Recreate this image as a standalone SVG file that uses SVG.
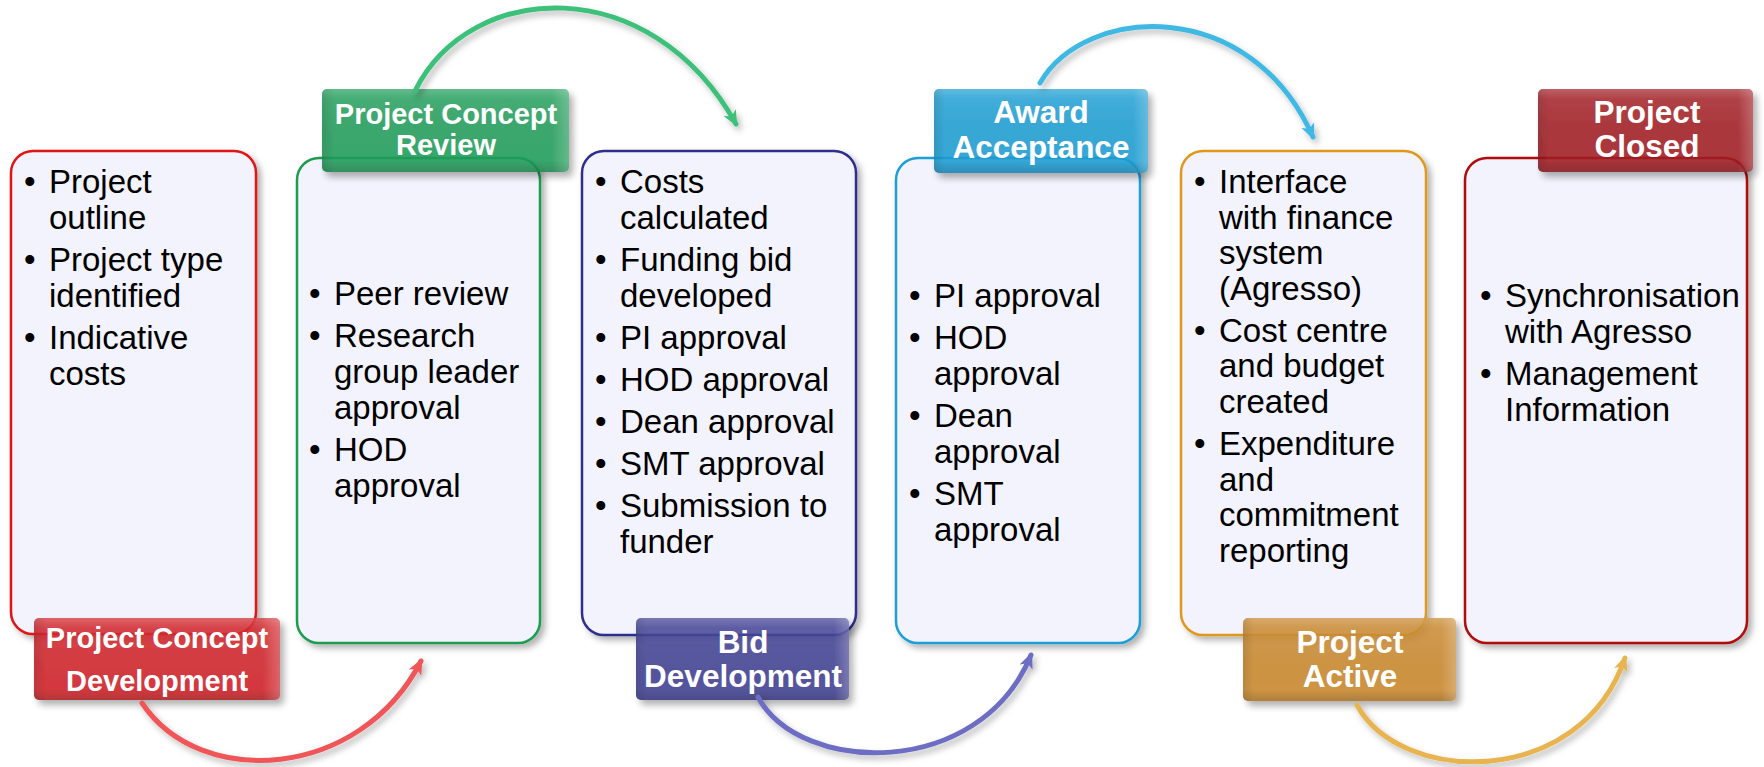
<svg xmlns="http://www.w3.org/2000/svg" width="1764" height="767" viewBox="0 0 1764 767">
<defs>
<style>
.box{fill:#f3f3fd;stroke-width:2.5;filter:url(#sh)}
.body{font-family:"Liberation Sans",Arial,sans-serif;font-size:33px;fill:#000}
.lbl{font-family:"Liberation Sans",Arial,sans-serif;font-weight:bold;fill:#fff;text-anchor:middle}
.lab{opacity:0.88}
.arc{fill:none;stroke-width:5;stroke-linecap:round;filter:url(#ash)}
</style>
<filter id="sh" x="-10%" y="-10%" width="125%" height="125%">
<feDropShadow dx="4" dy="4" stdDeviation="3" flood-color="#000" flood-opacity="0.3"/>
</filter>
<filter id="lsh" x="-10%" y="-20%" width="125%" height="150%">
<feDropShadow dx="4" dy="5" stdDeviation="3.5" flood-color="#000" flood-opacity="0.35"/>
</filter>
<filter id="ash" x="-10%" y="-20%" width="125%" height="150%">
<feDropShadow dx="3" dy="4" stdDeviation="3" flood-color="#000" flood-opacity="0.28"/>
</filter>
<linearGradient id="vs" x1="0" y1="0" x2="0" y2="1">
<stop offset="0" stop-color="#fff" stop-opacity="0.22"/>
<stop offset="0.12" stop-color="#fff" stop-opacity="0.06"/>
<stop offset="0.86" stop-color="#000" stop-opacity="0"/>
<stop offset="1" stop-color="#000" stop-opacity="0.18"/>
</linearGradient>
<linearGradient id="hs" x1="0" y1="0" x2="1" y2="0">
<stop offset="0" stop-color="#000" stop-opacity="0.12"/>
<stop offset="0.05" stop-color="#000" stop-opacity="0"/>
<stop offset="0.93" stop-color="#fff" stop-opacity="0"/>
<stop offset="1" stop-color="#fff" stop-opacity="0.22"/>
</linearGradient>
<marker id="mr" viewBox="0 0 16 16" refX="13" refY="8" markerWidth="16" markerHeight="16" markerUnits="userSpaceOnUse" orient="auto"><path d="M0,1 L16,8 L0,15 L4,8 z" fill="#f05458"/></marker>
<marker id="mg" viewBox="0 0 16 16" refX="13" refY="8" markerWidth="16" markerHeight="16" markerUnits="userSpaceOnUse" orient="auto"><path d="M0,1 L16,8 L0,15 L4,8 z" fill="#3cc07a"/></marker>
<marker id="mb" viewBox="0 0 16 16" refX="13" refY="8" markerWidth="16" markerHeight="16" markerUnits="userSpaceOnUse" orient="auto"><path d="M0,1 L16,8 L0,15 L4,8 z" fill="#6d6dc4"/></marker>
<marker id="mc" viewBox="0 0 16 16" refX="13" refY="8" markerWidth="16" markerHeight="16" markerUnits="userSpaceOnUse" orient="auto"><path d="M0,1 L16,8 L0,15 L4,8 z" fill="#40b8e4"/></marker>
<marker id="mo" viewBox="0 0 16 16" refX="13" refY="8" markerWidth="16" markerHeight="16" markerUnits="userSpaceOnUse" orient="auto"><path d="M0,1 L16,8 L0,15 L4,8 z" fill="#e8b450"/></marker>
</defs>
<rect width="1764" height="767" fill="#fff"/>

<g id="node-concept-development">
<rect class="box" x="11" y="151" width="245" height="483" rx="22" stroke="#e01414"/>
<g class="body">
<text x="24" y="193">•</text><text x="49" y="193">Project</text><text x="49" y="229">outline</text>
<text x="24" y="271">•</text><text x="49" y="271">Project type</text><text x="49" y="307">identified</text>
<text x="24" y="349">•</text><text x="49" y="349">Indicative</text><text x="49" y="385">costs</text>
</g>
<g class="lab" filter="url(#lsh)">
<rect x="34" y="618" width="246" height="82" rx="5" fill="#d01f25"/>
<rect x="34" y="618" width="246" height="82" rx="5" fill="url(#vs)"/>
<rect x="34" y="618" width="246" height="82" rx="5" fill="url(#hs)"/>
</g>
<text class="lbl" x="157" y="648" font-size="29">Project Concept</text>
<text class="lbl" x="157" y="691" font-size="29">Development</text>
</g>

<g id="node-concept-review">
<rect class="box" x="297" y="158" width="243" height="485" rx="22" stroke="#1e9c50"/>
<g class="body">
<text x="309" y="305">•</text><text x="334" y="305">Peer review</text>
<text x="309" y="347">•</text><text x="334" y="347">Research</text><text x="334" y="383">group leader</text><text x="334" y="419">approval</text>
<text x="309" y="461">•</text><text x="334" y="461">HOD</text><text x="334" y="497">approval</text>
</g>
<g class="lab" filter="url(#lsh)">
<rect x="322" y="89" width="247" height="83" rx="5" fill="#1f9c58"/>
<rect x="322" y="89" width="247" height="83" rx="5" fill="url(#vs)"/>
<rect x="322" y="89" width="247" height="83" rx="5" fill="url(#hs)"/>
</g>
<text class="lbl" x="446" y="124" font-size="29">Project Concept</text>
<text class="lbl" x="446" y="155" font-size="29">Review</text>
</g>

<g id="node-bid-development">
<rect class="box" x="582" y="151" width="274" height="484" rx="22" stroke="#2e2e8e"/>
<g class="body">
<text x="595" y="193">•</text><text x="620" y="193">Costs</text><text x="620" y="229">calculated</text>
<text x="595" y="271">•</text><text x="620" y="271">Funding bid</text><text x="620" y="307">developed</text>
<text x="595" y="349">•</text><text x="620" y="349">PI approval</text>
<text x="595" y="391">•</text><text x="620" y="391">HOD approval</text>
<text x="595" y="433">•</text><text x="620" y="433">Dean approval</text>
<text x="595" y="475">•</text><text x="620" y="475">SMT approval</text>
<text x="595" y="517">•</text><text x="620" y="517">Submission to</text><text x="620" y="553">funder</text>
</g>
<g class="lab" filter="url(#lsh)">
<rect x="636" y="618" width="213" height="82" rx="5" fill="#3e3e92"/>
<rect x="636" y="618" width="213" height="82" rx="5" fill="url(#vs)"/>
<rect x="636" y="618" width="213" height="82" rx="5" fill="url(#hs)"/>
</g>
<text class="lbl" x="743" y="653" font-size="31.5">Bid</text>
<text class="lbl" x="743" y="687" font-size="31.5">Development</text>
</g>

<g id="node-award-acceptance">
<rect class="box" x="896" y="158" width="244" height="485" rx="22" stroke="#1c9fd6"/>
<g class="body">
<text x="909" y="307">•</text><text x="934" y="307">PI approval</text>
<text x="909" y="349">•</text><text x="934" y="349">HOD</text><text x="934" y="385">approval</text>
<text x="909" y="427">•</text><text x="934" y="427">Dean</text><text x="934" y="463">approval</text>
<text x="909" y="505">•</text><text x="934" y="505">SMT</text><text x="934" y="541">approval</text>
</g>
<g class="lab" filter="url(#lsh)">
<rect x="934" y="89" width="214" height="84" rx="5" fill="#1a9cd2"/>
<rect x="934" y="89" width="214" height="84" rx="5" fill="url(#vs)"/>
<rect x="934" y="89" width="214" height="84" rx="5" fill="url(#hs)"/>
</g>
<text class="lbl" x="1041" y="123" font-size="31.5">Award</text>
<text class="lbl" x="1041" y="158" font-size="31.5">Acceptance</text>
</g>

<g id="node-project-active">
<rect class="box" x="1181" y="151" width="245" height="484" rx="22" stroke="#e0981c"/>
<g class="body">
<text x="1194" y="193">•</text><text x="1219" y="193">Interface</text><text x="1219" y="229">with finance</text><text x="1219" y="264">system</text><text x="1219" y="300">(Agresso)</text>
<text x="1194" y="342">•</text><text x="1219" y="342">Cost centre</text><text x="1219" y="377">and budget</text><text x="1219" y="413">created</text>
<text x="1194" y="455">•</text><text x="1219" y="455">Expenditure</text><text x="1219" y="491">and</text><text x="1219" y="526">commitment</text><text x="1219" y="562">reporting</text>
</g>
<g class="lab" filter="url(#lsh)">
<rect x="1243" y="618" width="213" height="83" rx="5" fill="#c8862a"/>
<rect x="1243" y="618" width="213" height="83" rx="5" fill="url(#vs)"/>
<rect x="1243" y="618" width="213" height="83" rx="5" fill="url(#hs)"/>
</g>
<text class="lbl" x="1350" y="653" font-size="31.5">Project</text>
<text class="lbl" x="1350" y="687" font-size="31.5">Active</text>
</g>

<g id="node-project-closed">
<rect class="box" x="1465" y="158" width="282" height="485" rx="22" stroke="#b00a0a"/>
<g class="body">
<text x="1480" y="307">•</text><text x="1505" y="307">Synchronisation</text><text x="1505" y="343">with Agresso</text>
<text x="1480" y="385">•</text><text x="1505" y="385">Management</text><text x="1505" y="421">Information</text>
</g>
<g class="lab" filter="url(#lsh)">
<rect x="1538" y="89" width="215" height="83" rx="5" fill="#a01a20"/>
<rect x="1538" y="89" width="215" height="83" rx="5" fill="url(#vs)"/>
<rect x="1538" y="89" width="215" height="83" rx="5" fill="url(#hs)"/>
</g>
<text class="lbl" x="1647" y="123" font-size="31.5">Project</text>
<text class="lbl" x="1647" y="157" font-size="31.5">Closed</text>
</g>

<g id="connectors">
<path class="arc" d="M142,703 C200,790 360,780 421,661" stroke="#f05458" marker-end="url(#mr)"/>
<path class="arc" d="M415,91 C470,-20 650,-30 736,124" stroke="#3cc07a" marker-end="url(#mg)"/>
<path class="arc" d="M758,697 C800,775 980,780 1031,655" stroke="#6d6dc4" marker-end="url(#mb)"/>
<path class="arc" d="M1040,83 C1085,5 1250,-5 1313,137" stroke="#40b8e4" marker-end="url(#mc)"/>
<path class="arc" d="M1357,705 C1400,785 1580,790 1625,658" stroke="#e8b450" marker-end="url(#mo)"/>
</g>
</svg>
